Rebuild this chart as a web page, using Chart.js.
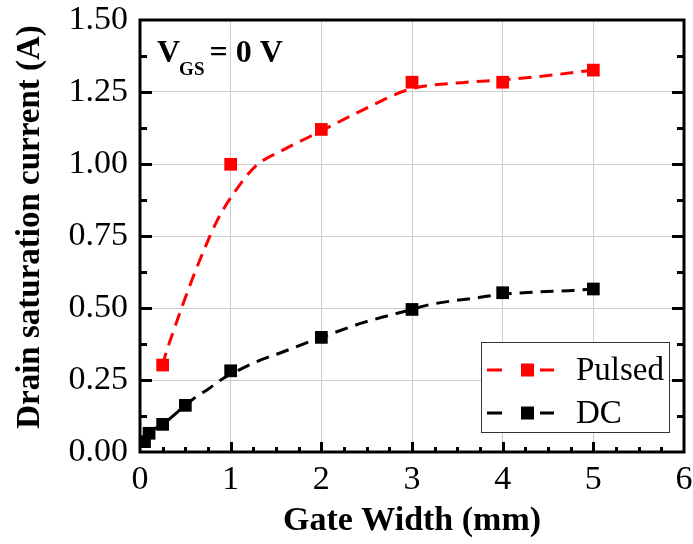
<!DOCTYPE html>
<html>
<head>
<meta charset="utf-8">
<script src="https://cdn.jsdelivr.net/npm/chart.js@4/dist/chart.umd.min.js"></script>
<style>
html,body{margin:0;padding:0;background:#fff;}
#wrap{width:693px;height:544px;}
</style>
</head>
<body>
<div id="wrap"><canvas id="c" width="693" height="544"></canvas></div>
<script>
// ---- data ----
const seriesNames = ['Pulsed', 'DC'];
const pulsedX = [0.25, 1, 2, 3, 4, 5];
const pulsedY = [0.302, 0.999, 1.12, 1.284, 1.284, 1.326];
const dcX = [0.05, 0.1, 0.25, 0.5, 1, 2, 3, 4, 5];
const dcY = [0.036, 0.065, 0.096, 0.162, 0.282, 0.398, 0.495, 0.553, 0.566];
// dashed fit curves
const pulsedFitX = [0.25, 0.275, 0.367, 0.47, 0.58, 0.705, 0.845, 1.02, 1.27, 1.58, 1.95, 2.46, 2.97, 3.6, 4.0, 4.55, 4.95];
const pulsedFitY = [0.30, 0.331, 0.418, 0.51, 0.603, 0.701, 0.80, 0.892, 0.991, 1.049, 1.107, 1.188, 1.259, 1.284, 1.292, 1.309, 1.324];
const dcFitX = [0.05, 0.1, 0.25, 0.5, 0.62, 0.75, 0.92, 1.0, 1.29, 1.58, 1.87, 2.0, 2.47, 3.0, 3.17, 3.75, 4.0, 4.34, 4.78, 5.0];
const dcFitY = [0.036, 0.065, 0.096, 0.162, 0.192, 0.218, 0.256, 0.27, 0.314, 0.348, 0.383, 0.398, 0.45, 0.495, 0.51, 0.537, 0.548, 0.555, 0.561, 0.566];
const xTicks = [0, 1, 2, 3, 4, 5, 6];
const yTicks = [0, 0.25, 0.5, 0.75, 1.0, 1.25, 1.5];
const xTitle = 'Gate Width (mm)';
const yTitle = 'Drain saturation current (A)';

const RED = '#ff0000', BLACK = '#000000';
const SERIF = '"Liberation Serif", "Times New Roman", serif';
const zip = (xs, ys) => xs.map((x, i) => ({x, y: ys[i]}));

const framePlugin = {
  id: 'frame',
  afterDraw(chart) {
    const ctx = chart.ctx, a = chart.chartArea;
    const xs = chart.scales.x, ys = chart.scales.y;
    ctx.save();
    ctx.strokeStyle = '#000';
    ctx.lineWidth = 3;
    ctx.lineCap = 'butt';
    ctx.strokeRect(a.left, a.top, a.right - a.left, a.bottom - a.top);
    // y ticks (left & right, inward), every 0.125
    for (let v = 0.125; v < 1.5; v += 0.125) {
      const major = Math.abs(v / 0.25 - Math.round(v / 0.25)) < 1e-6;
      const len = major ? 12 : 7;
      const py = Math.round(ys.getPixelForValue(v)) + 0.5;
      ctx.beginPath();
      ctx.moveTo(a.left, py); ctx.lineTo(a.left + len, py);
      ctx.moveTo(a.right, py); ctx.lineTo(a.right - len, py);
      ctx.stroke();
    }
    // x ticks (bottom, inward), every 0.25
    for (let v = 0.25; v < 6; v += 0.25) {
      const major = Math.abs(v - Math.round(v)) < 1e-6;
      const len = major ? 10 : 5;
      const px = Math.round(xs.getPixelForValue(v)) + 0.5;
      ctx.beginPath();
      ctx.moveTo(px, a.bottom); ctx.lineTo(px, a.bottom - len);
      ctx.stroke();
    }
    // y axis title
    ctx.fillStyle = '#000';
    ctx.save();
    ctx.translate(30, 227);
    ctx.rotate(-Math.PI / 2);
    ctx.font = 'bold 33px ' + SERIF;
    ctx.textAlign = 'center';
    ctx.textBaseline = 'middle';
    ctx.fillText(yTitle, 0, 0);
    ctx.restore();

    // annotation V_GS = 0 V
    ctx.textBaseline = 'alphabetic';
    ctx.textAlign = 'left';
    let x0 = a.left + 17;
    ctx.font = 'bold 32px ' + SERIF;
    ctx.fillText('V', x0, 62);
    x0 += ctx.measureText('V').width;
    ctx.font = 'bold 19px ' + SERIF;
    ctx.fillText('GS', x0 - 1, 75);
    x0 += ctx.measureText('GS').width + 4;
    ctx.font = 'bold 32px ' + SERIF;
    ctx.fillText('= 0 V', x0, 62);

    // legend
    const bx = 481, by = 342, bw = 188, bh = 90;
    ctx.fillStyle = '#fff';
    ctx.fillRect(bx, by, bw, bh);
    ctx.lineWidth = 1;
    ctx.strokeStyle = '#333';
    ctx.strokeRect(bx + 0.5, by + 0.5, bw, bh);
    const legendColors = [RED, BLACK];
    const rowsY = [370, 413];
    seriesNames.forEach((name, i) => {
      const cy = rowsY[i];
      ctx.strokeStyle = legendColors[i];
      ctx.fillStyle = legendColors[i];
      ctx.lineWidth = 3;
      ctx.beginPath();
      ctx.moveTo(487, cy); ctx.lineTo(502, cy);
      ctx.moveTo(540, cy); ctx.lineTo(554, cy);
      ctx.stroke();
      ctx.fillRect(521, cy - 6.5, 13, 13);
      ctx.fillStyle = '#000';
      ctx.font = '33px ' + SERIF;
      ctx.textBaseline = 'middle';
      ctx.fillText(name, 576, cy + 1);
    });
    ctx.restore();
  }
};

new Chart(document.getElementById('c'), {
  type: 'scatter',
  data: {
    datasets: [
      {label: seriesNames[0] + ' pts', data: zip(pulsedX, pulsedY), showLine: false,
       pointStyle: 'rect', pointRadius: 9, pointHoverRadius: 9, pointBorderWidth: 0,
       backgroundColor: RED, borderColor: RED},
      {label: seriesNames[1] + ' pts', data: zip(dcX, dcY), showLine: false,
       pointStyle: 'rect', pointRadius: 9, pointHoverRadius: 9, pointBorderWidth: 0,
       backgroundColor: BLACK, borderColor: BLACK},
      {label: seriesNames[0] + ' fit', data: zip(pulsedFitX, pulsedFitY), showLine: true,
       pointRadius: 0, borderColor: RED, borderWidth: 3, borderDash: [13, 8],
       cubicInterpolationMode: 'monotone'},
      {label: seriesNames[1] + ' fit', data: zip(dcFitX, dcFitY), showLine: true,
       pointRadius: 0, borderColor: BLACK, borderWidth: 3, borderDash: [13, 8],
       cubicInterpolationMode: 'monotone',
       segment: {borderDash: c => (c.p1.parsed.x <= 0.5 ? [] : [13, 8])}}
    ]
  },
  options: {
    responsive: false,
    animation: false,
    layout: {padding: {top: 20, right: 8, left: 0, bottom: 0}},
    plugins: {legend: {display: false}, tooltip: {enabled: false}},
    scales: {
      x: {
        type: 'linear', min: 0, max: 6,
        afterBuildTicks: s => { s.ticks = xTicks.map(v => ({value: v})); },
        afterFit: s => { s.height = 92; s.paddingLeft = 0; s.paddingRight = 0; },
        grid: {color: '#cccccc', lineWidth: 1, drawTicks: false},
        border: {display: false},
        ticks: {color: '#000', padding: 8, font: {family: SERIF, size: 34},
                callback: v => String(v)},
        title: {display: true, text: xTitle, color: '#000',
                font: {family: SERIF, size: 34, weight: 'bold'}, padding: {top: 0, bottom: 2}}
      },
      y: {
        type: 'linear', min: 0, max: 1.5,
        afterBuildTicks: s => { s.ticks = yTicks.map(v => ({value: v})); },
        afterFit: s => { s.width = 140; s.paddingTop = 0; s.paddingBottom = 0; },
        grid: {color: '#cccccc', lineWidth: 1, drawTicks: false},
        border: {display: false},
        ticks: {color: '#000', padding: 12, font: {family: SERIF, size: 34},
                callback: v => Number(v).toFixed(2)},
        title: {display: false}
      }
    }
  },
  plugins: [framePlugin]
});
</script>
</body>
</html>
